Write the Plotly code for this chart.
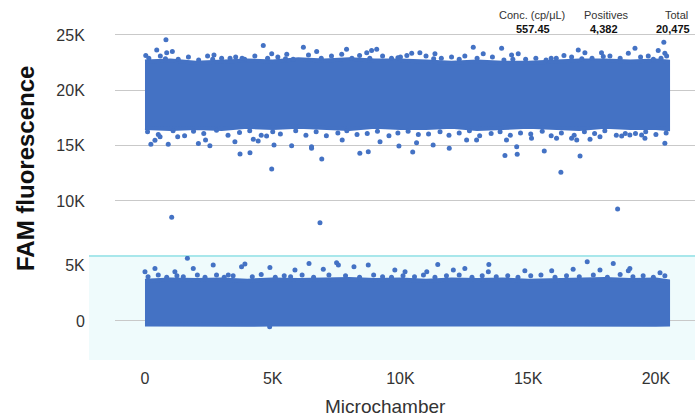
import plotly.graph_objects as go

# ---------------- data ----------------
# Positive droplet cloud: dense core envelope, sampled every 1000 microchambers
pos_x = [0, 1000, 2000, 3000, 4000, 5000, 6000, 7000, 8000, 9000, 10000, 11000, 12000,
         13000, 14000, 15000, 16000, 17000, 18000, 19000, 20000, 20475]
pos_core_hi = [22600, 22700, 22500, 22600, 22700, 22600, 22800, 22700, 22800, 22700, 22700,
               22600, 22500, 22600, 22500, 22500, 22600, 22700, 22700, 22600, 22700, 22600]
pos_core_lo = [16600, 16500, 16600, 16500, 16700, 16600, 16700, 16600, 16500, 16700, 16600,
               16600, 16700, 16500, 16600, 16700, 16600, 16500, 16700, 16600, 16600, 16500]

# Individual positive droplets outside the dense core (microchamber, fluorescence)
pos_pts_x = [820, 4630, 30, 460, 850, 1070, 2700, 4960, 5550, 6200, 3330,
             12850, 7890, 9070, 8870, 8680, 10440, 10760, 13240, 6720, 12520, 11350,
             20310, 13960, 14350, 14610, 16400, 16960, 17220, 17870, 17940, 19180, 18920,
             19700, 20090, 20350,
             150, 600, 1300, 1700, 2100, 2450, 3000, 3550, 3900, 4300, 4800, 5200, 5800,
             6400, 6900, 7300, 7700, 8100, 8400, 9300, 9650, 10000, 10250, 11000, 11600,
             12000, 12300, 13000, 13600, 14050, 14900, 15300, 15700, 16100, 16700, 17500,
             18200, 18600, 19400, 19900, 20420, 800, 2650, 5500, 8800, 11300, 14400, 17100,
             20200, 3800, 9900, 15900,
             230, 910, 1280, 2090, 2540, 3520, 3720, 4110, 4960, 5050, 4760, 5740, 6520,
             390, 590, 2370, 4240, 4430,
             6920, 8410, 8740, 9940, 10480, 11910, 7720, 9200, 10630, 11280, 12590, 12980, 6520,
             16280, 14090, 14570, 14550, 15630, 17030, 16110, 16700, 16900, 17420, 17810,
             18660, 18980, 19440, 19570, 20350, 14150, 15130,
             100, 520, 1100, 1550, 1900, 2300, 2800, 3250, 3700, 4100, 4550, 5000, 5300,
             5900, 6300, 6700, 7100, 7550, 7900, 8300, 8700, 9100, 9550, 9900, 10300, 10700,
             11100, 11550, 11900, 12300, 12700, 13100, 13550, 13900, 14300, 14700, 15100,
             15550, 15900, 16300, 16800, 17200, 17600, 18000, 18450, 18800, 19200, 19600,
             20000, 20400,
             1045, 6850, 18500]
pos_pts_y = [24560, 24040, 23140, 23650, 23400, 23500, 23200, 23300, 23260, 23900, 22900,
             23900, 23720, 23720, 23600, 23400, 23350, 23400, 23300, 23500, 23100, 23300,
             24350, 23800, 23200, 23300, 23140, 23650, 23400, 23400, 23050, 23800, 23350,
             23100, 23600, 23350,
             22900, 23100, 22800, 23000, 22750, 23100, 22900, 23000, 22800, 23100, 22900,
             23000, 22800, 23200, 22900, 23100, 23250, 22900, 23150, 23100, 22900, 23000,
             23150, 23100, 22900, 23000, 22800, 22900, 23000, 22750, 22800, 22900, 22750,
             22900, 23000, 22900, 23100, 22900, 23000, 22800, 23100, 22850, 22800, 22850,
             22900, 22850, 22800, 22850, 22900, 22900, 22950, 22900,
             15130, 15130, 15800, 15200, 15000, 15360, 14250, 14370, 12900, 15060, 15880, 15000, 14760,
             15490, 15810, 15500, 15580, 15420,
             13800, 14310, 14460, 14970, 14430, 14760, 15500, 15360, 15270, 15060, 15500, 15500, 14910,
             12600, 14100, 14220, 14910, 14520, 14070, 15670, 15670, 15500, 15580, 15810,
             15880, 15970, 15970, 15670, 15220, 15500, 15670,
             16250, 16000, 16350, 15900, 16300, 16100, 16400, 15950, 16200, 16350, 15950,
             16250, 16050, 16350, 15950, 16250, 15900, 16150, 16350, 16000, 16100, 16300,
             15900, 16150, 16300, 16000, 16050, 16250, 15950, 16150, 16350, 15900, 16100,
             16250, 15950, 16150, 16050, 16300, 15900, 16150, 15950, 16250, 16100, 16350,
             15950, 16100, 16100, 16250, 16000, 16150,
             8530, 8040, 9280]

# Negative droplet cloud: dense envelope, sampled every 1000 microchambers
neg_x = [0, 1000, 2000, 3000, 4000, 5000, 6000, 7000, 8000, 9000, 10000, 11000, 12000,
         13000, 14000, 15000, 16000, 17000, 18000, 19000, 20000, 20475]
neg_hi = [3650, 3750, 3700, 3750, 3650, 3750, 3700, 3750, 3800, 3700, 3750, 3650, 3750,
          3700, 3750, 3650, 3700, 3750, 3800, 3700, 3750, 3600]
neg_lo = [-320, -330, -300, -320, -340, -310, -320, -330, -300, -320, -320, -310, -330,
          -320, -330, -300, -320, -330, -310, -320, -330, -320]

# Individual negative droplets above the dense band
neg_pts_x = [1660, 2670, 1890, 390, 0, 3910, 3780, 4890, 6420, 7500, 7570, 8180, 8740,
             5870, 6980, 1170, 9780, 3260,
             11460, 13460, 17310, 18330, 18980, 18920, 20160, 15920, 16760, 10180, 12520,
             12070, 13440, 14870, 17810, 11030,
             120, 520, 850, 1250, 1500, 2050, 2350, 2800, 3100, 3450, 4200, 4550, 5100,
             5450, 5700, 6150, 6600, 7200, 7850, 8400, 8950, 9300, 9650, 10100, 10550,
             10900, 11350, 11800, 12300, 12800, 13200, 13750, 14200, 14600, 15100, 15500,
             16050, 16500, 17000, 17550, 18100, 18600, 19100, 19500, 19900, 20350,
             4880]
neg_pts_y = [5670, 5060, 4760, 4760, 4460, 5150, 4910, 4850, 5200, 5270, 5060, 4910, 5060,
             4610, 4670, 4460, 4610, 4160,
             5120, 5120, 5360, 5210, 4760, 4550, 4370, 4550, 4670, 4460, 4760,
             4610, 4460, 4550, 4610, 4460,
             4000, 4150, 3950, 4100, 4000, 4150, 3950, 4150, 3950, 4100, 4000, 4200, 3950,
             4100, 4000, 4150, 3950, 4150, 4100, 3950, 4150, 4000, 3950, 4100, 4000,
             4150, 3950, 4100, 4150, 3950, 4100, 4000, 4100, 3950, 4100, 4150,
             3950, 4100, 4000, 4150, 3950, 4200, 4000, 4100, 3950, 4100,
             -520]

x_tickvals = [0, 5000, 10000, 15000, 20000]
x_ticktext = ["0", "5K", "10K", "15K", "20K"]
y_up_tickvals = [10000, 15000, 20000, 25000]
y_up_ticktext = ["10K", "15K", "20K", "25K"]
y_lo_tickvals = [0, 5000]
y_lo_ticktext = ["0", "5K"]

stats_labels = ["Conc. (cp/μL)", "Positives", "Total"]
stats_values = ["557.45", "4,382", "20,475"]

# ---------------- styling ----------------
BLUE = "#4472C4"
FONT = "Liberation Sans"
TXT = "#333333"
GRID = "#c9c9c9"

W, H = 695, 416
ML, MR, MT, MB = 115, 0, 30, 56
PW, PH = W - ML - MR, H - MT - MB
low_frac = 104 / PH

fig = go.Figure()

# upper panel
fig.add_trace(go.Scatter(
    x=pos_x + pos_x[::-1], y=pos_core_hi + pos_core_lo[::-1],
    fill="toself", fillcolor=BLUE, mode="lines",
    line=dict(color=BLUE, width=4), hoverinfo="skip",
    xaxis="x", yaxis="y", showlegend=False))
fig.add_trace(go.Scatter(
    x=pos_pts_x, y=pos_pts_y, mode="markers",
    marker=dict(color=BLUE, size=5, line=dict(width=0)),
    xaxis="x", yaxis="y", showlegend=False))

# lower panel
fig.add_trace(go.Scatter(
    x=neg_x + neg_x[::-1], y=neg_hi + neg_lo[::-1],
    fill="toself", fillcolor=BLUE, mode="lines",
    line=dict(color=BLUE, width=4), hoverinfo="skip",
    xaxis="x", yaxis="y2", showlegend=False))
fig.add_trace(go.Scatter(
    x=neg_pts_x, y=neg_pts_y, mode="markers",
    marker=dict(color=BLUE, size=5, line=dict(width=0)),
    xaxis="x", yaxis="y2", showlegend=False))

x_left = -1174
x_right = 21530

fig.update_layout(
    width=W, height=H,
    margin=dict(l=ML, r=MR, t=MT, b=MB),
    paper_bgcolor="white", plot_bgcolor="rgba(0,0,0,0)",
    font=dict(family=FONT, color=TXT),
    xaxis=dict(domain=[0, 1], anchor="y2", range=[x_left, x_right],
               tickvals=x_tickvals, ticktext=x_ticktext,
               showgrid=False, zeroline=False, showline=False,
               ticks="outside", ticklen=4, tickcolor="rgba(0,0,0,0)",
               tickfont=dict(size=16, color=TXT)),
    yaxis=dict(domain=[low_frac, 1], anchor="x", range=[5030, 25450],
               tickvals=y_up_tickvals, ticktext=y_up_ticktext,
               showgrid=True, gridcolor=GRID, gridwidth=1, zeroline=False,
               ticks="outside", ticklen=26, tickcolor="rgba(0,0,0,0)",
               tickfont=dict(size=16, color=TXT)),
    yaxis2=dict(domain=[0, low_frac], anchor="x", range=[-3530, 5880],
                tickvals=y_lo_tickvals, ticktext=y_lo_ticktext,
                showgrid=False, zeroline=True, zerolinecolor=GRID, zerolinewidth=1,
                ticks="outside", ticklen=26, tickcolor="rgba(0,0,0,0)",
                tickfont=dict(size=16, color=TXT)),
)

cx0 = (89 - ML) / PW
fig.add_shape(type="rect", xref="paper", yref="paper", x0=cx0, x1=1, y0=0, y1=low_frac,
              fillcolor="#effbfc", line=dict(width=0), layer="below")
fig.add_shape(type="line", xref="paper", yref="paper", x0=cx0, x1=1, y0=low_frac, y1=low_frac,
              line=dict(color="#a8e7eb", width=2), layer="below")

# axis titles
fig.add_annotation(text="<b>FAM fluorescence</b>", xref="paper", yref="paper",
                   x=(25 - ML) / PW, y=(H - MB - 169) / PH, textangle=-90,
                   showarrow=False, font=dict(size=24, color="#111111", family=FONT),
                   xanchor="center", yanchor="middle")
fig.add_annotation(text="Microchamber", xref="paper", yref="paper",
                   x=(385 - ML) / PW, y=(H - MB - 406) / PH, showarrow=False,
                   font=dict(size=19, color=TXT, family=FONT),
                   xanchor="center", yanchor="middle")

# stats in the top right
label_px = [532, 606, 676]
value_px = [533, 604, 673]
for lab, val, lx, vx in zip(stats_labels, stats_values, label_px, value_px):
    fig.add_annotation(text=lab, xref="paper", yref="paper",
                       x=(lx - ML) / PW, y=(H - MB - 15.5) / PH, showarrow=False,
                       font=dict(size=11, color=TXT, family=FONT),
                       xanchor="center", yanchor="middle")
    fig.add_annotation(text="<b>" + val + "</b>", xref="paper", yref="paper",
                       x=(vx - ML) / PW, y=(H - MB - 29) / PH, showarrow=False,
                       font=dict(size=11, color="#111111", family=FONT),
                       xanchor="center", yanchor="middle")

fig.write_html("out.html")
